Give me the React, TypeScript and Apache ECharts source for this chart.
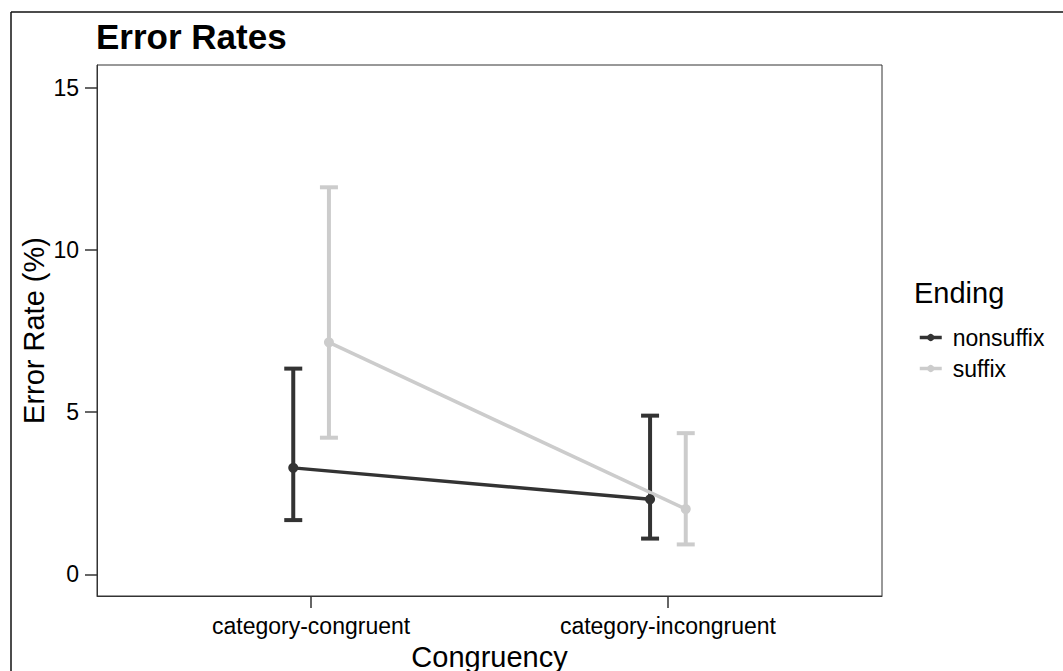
import React, { useEffect, useRef } from "react";
import * as echarts from "echarts";

const categories = ["category-congruent", "category-incongruent"];
const groups = ["nonsuffix", "suffix"];
const groupColors = ["#333333", "#cccccc"];
const nonsuffixMean = [3.28, 2.31];
const nonsuffixLow = [1.67, 1.1];
const nonsuffixHigh = [6.34, 4.89];
const suffixMean = [7.15, 2.01];
const suffixLow = [4.21, 0.92];
const suffixHigh = [11.93, 4.35];
const yTicks = [0, 5, 10, 15];
const dodge = [-0.05, 0.05];

const FONT = "'Liberation Sans', Arial, sans-serif";

export default function App() {
  const ref = useRef<HTMLDivElement>(null);
  useEffect(() => {
    if (!ref.current) return;
    const chart = echarts.init(ref.current, null, { renderer: "svg" });
    const means = [nonsuffixMean, suffixMean];
    const lows = [nonsuffixLow, suffixLow];
    const highs = [nonsuffixHigh, suffixHigh];

    const errSeries = groups.map((g, gi) => ({
      name: g,
      type: "custom",
      clip: false,
      z: 2,
      data: categories.map((_, ci) => [ci + 1 + dodge[gi], lows[gi][ci], highs[gi][ci]]),
      renderItem: (params: any, api: any) => {
        const x = api.value(0);
        const top = api.coord([x, api.value(2)]);
        const bot = api.coord([x, api.value(1)]);
        const half = 9;
        const style = { stroke: groupColors[gi], lineWidth: 4, fill: "none" };
        return {
          type: "group",
          children: [
            { type: "line", shape: { x1: top[0], y1: top[1], x2: bot[0], y2: bot[1] }, style },
            { type: "line", shape: { x1: top[0] - half, y1: top[1], x2: top[0] + half, y2: top[1] }, style },
            { type: "line", shape: { x1: bot[0] - half, y1: bot[1], x2: bot[0] + half, y2: bot[1] }, style },
          ],
        };
      },
    }));

    const lineSeries = groups.map((g, gi) => ({
      name: g,
      type: "line",
      z: 3,
      symbol: "circle",
      symbolSize: 10,
      itemStyle: { color: groupColors[gi] },
      lineStyle: { color: groupColors[gi], width: 3.5 },
      data: categories.map((_, ci) => [ci + 1 + dodge[gi], means[gi][ci]]),
    }));

    chart.setOption({
      animation: false,
      textStyle: { fontFamily: FONT },
      title: [
        {
          text: "Error Rates",
          left: 91,
          top: 14,
          textStyle: { fontFamily: FONT, fontWeight: "bold", fontSize: 35, color: "#000" },
        },
        {
          text: "Ending",
          left: 909,
          top: 273,
          textStyle: { fontFamily: FONT, fontWeight: "normal", fontSize: 29, color: "#000" },
        },
      ],
      legend: {
        orient: "vertical",
        left: 913,
        top: 321,
        itemWidth: 22,
        itemHeight: 9,
        itemGap: 8,
        data: groups,
        lineStyle: { width: 3.5 },
        textStyle: { fontFamily: FONT, fontSize: 23, color: "#000", padding: [0, 0, 0, 6] },
      },
      grid: {
        left: 97,
        right: 181,
        top: 65,
        bottom: 75,
        show: true,
        borderColor: "#333",
        borderWidth: 1,
        containLabel: false,
        outerBoundsMode: "none",
      },
      xAxis: {
        type: "value",
        min: 0.4,
        max: 2.6,
        name: "Congruency",
        nameLocation: "middle",
        nameGap: 46,
        nameMoveOverlap: false,
        nameTextStyle: { fontFamily: FONT, fontSize: 29, color: "#000" },
        axisLine: { show: true, onZero: false, lineStyle: { color: "#333", width: 1 } },
        axisTick: { show: true, customValues: [1, 2], length: 12, lineStyle: { color: "#333", width: 1.5 } },
        axisLabel: {
          customValues: [1, 2],
          formatter: (v: number) => categories[Math.round(v) - 1] ?? "",
          fontFamily: FONT,
          fontSize: 23,
          color: "#000",
          margin: 18,
        },
        splitLine: { show: false },
      },
      yAxis: {
        type: "value",
        min: -0.67,
        max: 15.7,
        name: "Error Rate (%)",
        nameLocation: "middle",
        nameGap: 49,
        nameRotate: 90,
        nameMoveOverlap: false,
        nameTextStyle: { fontFamily: FONT, fontSize: 29, color: "#000" },
        axisLine: { show: true, onZero: false, lineStyle: { color: "#333", width: 1 } },
        axisTick: { show: true, customValues: yTicks, length: 12, lineStyle: { color: "#333", width: 1.5 } },
        axisLabel: {
          customValues: yTicks,
          fontFamily: FONT,
          fontSize: 23,
          color: "#000",
          margin: 18,
        },
        splitLine: { show: false },
      },
      graphic: [
        { type: "line", shape: { x1: 11, y1: 12, x2: 1063, y2: 12 }, style: { stroke: "#111", lineWidth: 1.5 } },
        { type: "line", shape: { x1: 11, y1: 12, x2: 11, y2: 671 }, style: { stroke: "#111", lineWidth: 1.5 } },
      ],
      series: [...lineSeries, ...errSeries],
    });
    return () => chart.dispose();
  }, []);
  return (
    <div
      ref={ref}
      style={{ position: "fixed", left: 0, top: 0, width: 1063, height: 671, background: "#fff" }}
    />
  );
}
